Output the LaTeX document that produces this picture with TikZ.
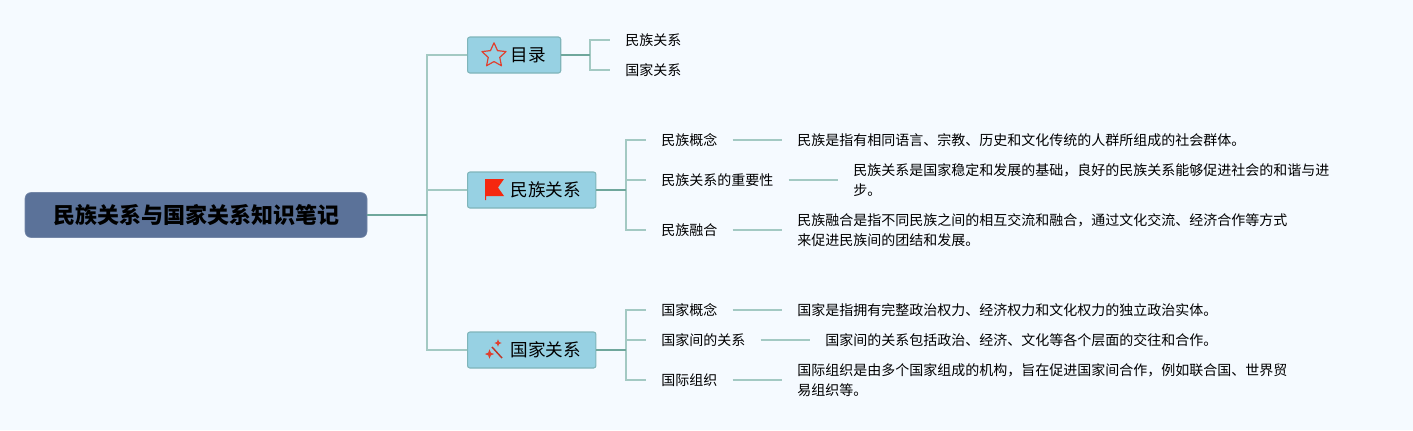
\documentclass[tikz,border=0pt]{standalone}
\usepackage{fontspec}
\setmainfont{Noto Sans CJK SC}
\usetikzlibrary{shapes.geometric}
\definecolor{pagebg}{HTML}{F5FAFF}
\definecolor{rootfill}{HTML}{5B7299}
\definecolor{branchfill}{HTML}{97D1E3}
\definecolor{branchline}{HTML}{7FB5BA}
\definecolor{stemdark}{HTML}{6FA79C}
\definecolor{stemlight}{HTML}{A3C9C3}
\definecolor{iconred}{HTML}{E0402F}
\definecolor{flagred}{HTML}{F5280F}
\tikzset{
  rootbox/.style={draw=rootfill!85!white,fill=rootfill,rounded corners=4.5pt,font=\fontsize{16.5}{20}\selectfont\bfseries,minimum width=256.5pt,minimum height=33.75pt,inner sep=0pt},
  branchbox/.style={draw=branchline,line width=0.8pt,fill=branchfill,rounded corners=1.8pt,font=\fontsize{13.2}{16}\selectfont,anchor=west,minimum height=27pt,inner xsep=11.25pt,inner ysep=0pt},
  leaf/.style={anchor=west,inner xsep=11.25pt,inner ysep=0pt,align=left,font=\fontsize{10.5}{15}\selectfont},
  stemthick/.style={draw=stemdark,line width=1.2pt},
  stemthin/.style={draw=stemlight,line width=1.1pt}
}
\newcommand{\iconspace}{\hspace*{21pt}}
\begin{document}
\begin{tikzpicture}[x=0.75pt,y=-0.75pt]
  \fill[pagebg] (0,0) rectangle (1413,430);
  \useasboundingbox (0,0) rectangle (1413,430);

  \node[rootbox] (root) at (196,215) {民族关系与国家关系知识笔记};
  %
  % Branches
  \node[branchbox] (mulu) at (467,55) {\iconspace 目录};
  \node[branchbox] (minzu) at (467,190) {\iconspace 民族关系};
  \node[branchbox] (guojia) at (467,350) {\iconspace 国家关系};

  \coordinate (trunk) at (427,215);
  \coordinate (busa) at (590,55);
  \coordinate (busb) at (626,190);
  \coordinate (busc) at (626,350);
  %
  % Leaves
  \node[leaf] (mulua) at (610,40) {民族关系};
  \node[leaf] (mulub) at (610,70) {国家关系};

  \node[leaf] (mza) at (646,140) {民族概念};
  \node[leaf] (mzb) at (646,180) {民族关系的重要性};
  \node[leaf] (mzc) at (646,230) {民族融合};
  \node[leaf] (mzatext) at (782,140) {民族是指有相同语言、宗教、历史和文化传统的人群所组成的社会群体。};
  \node[leaf] (mzbtext) at (838,180) {民族关系是国家稳定和发展的基础，良好的民族关系能够促进社会的和谐与进\\步。};
  \node[leaf] (mzctext) at (782,230) {民族融合是指不同民族之间的相互交流和融合，通过文化交流、经济合作等方式\\来促进民族间的团结和发展。};

  \node[leaf] (gja) at (646,310) {国家概念};
  \node[leaf] (gjb) at (646,340) {国家间的关系};
  \node[leaf] (gjc) at (646,380) {国际组织};
  \node[leaf] (gjatext) at (782,310) {国家是指拥有完整政治权力、经济权力和文化权力的独立政治实体。};
  \node[leaf] (gjbtext) at (810,340) {国家间的关系包括政治、经济、文化等各个层面的交往和合作。};
  \node[leaf] (gjctext) at (782,380) {国际组织是由多个国家组成的机构，旨在促进国家间合作，例如联合国、世界贸\\易组织等。};
  %
  % Connectors
  \draw[stemthin] (trunk) |- (mulu.west);
  \draw[stemthin] (trunk) |- (minzu.west);
  \draw[stemthin] (trunk) |- (guojia.west);
  \draw[stemthick] (root.east) -- (trunk);

  \draw[stemthin] (busa) |- (mulua.west);
  \draw[stemthin] (busa) |- (mulub.west);
  \draw[stemthick] (mulu.east) -- (busa);

  \draw[stemthin] (busb) |- (mza.west);
  \draw[stemthin] (busb) |- (mzb.west);
  \draw[stemthin] (busb) |- (mzc.west);
  \draw[stemthick] (minzu.east) -- (busb);
  \draw[stemthin] (mza.east) -- (mzatext.west);
  \draw[stemthin] (mzb.east) -- (mzbtext.west);
  \draw[stemthin] (mzc.east) -- (mzctext.west);

  \draw[stemthin] (busc) |- (gja.west);
  \draw[stemthin] (busc) |- (gjb.west);
  \draw[stemthin] (busc) |- (gjc.west);
  \draw[stemthick] (guojia.east) -- (busc);
  \draw[stemthin] (gja.east) -- (gjatext.west);
  \draw[stemthin] (gjb.east) -- (gjbtext.west);
  \draw[stemthin] (gjc.east) -- (gjctext.west);
  %
  % Icons
  \node[star,star points=5,star point ratio=2.1,draw=iconred,line width=0.9pt,minimum size=19pt,inner sep=0pt,line join=round] (staricon) at (494,55.5) {};
  \fill[flagred] (485,179) -- (504,179) -- (498,187.5) -- (504,196) -- (486,196) -- (486,200) -- (485,200) -- cycle;
  \draw[iconred!85!black,line width=1.1pt] (492,347) -- (502,358);
  \node[star,star points=4,star point ratio=2.5,fill=iconred,minimum size=7pt,inner sep=0pt] (sparka) at (489.5,354) {};
  \node[star,star points=4,star point ratio=2.5,fill=iconred,minimum size=5.5pt,inner sep=0pt] (sparkb) at (498,343) {};
\end{tikzpicture}
\end{document}
